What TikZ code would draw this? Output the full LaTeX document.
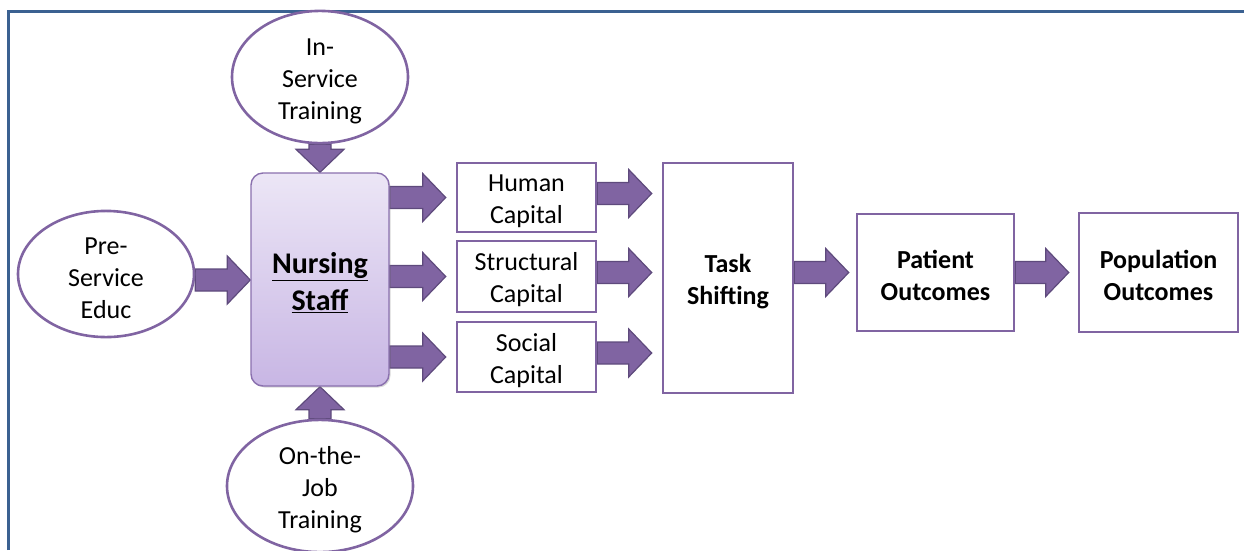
\documentclass[tikz,border=0pt]{standalone}
\usepackage{fontspec}
\setmainfont{Carlito}
\usetikzlibrary{calc,shapes.geometric,backgrounds,shadows}
\definecolor{purp}{HTML}{8064A2}
\definecolor{purpdark}{HTML}{5E4A7C}
\definecolor{purpline}{HTML}{8A70AE}
\definecolor{frameblue}{HTML}{3B6191}
\definecolor{gradtop}{HTML}{ECE6F6}
\definecolor{gradbot}{HTML}{C8B6E4}
\newcommand\fatarrow[2]{%
  \filldraw[fatarrow] ($(#1)!11pt!90:(#2)$) -- ($(#2)!23pt!(#1)!11pt!90:(#2)$)
    -- ($(#2)!23pt!(#1)!24pt!90:(#2)$) -- (#2)
    -- ($(#2)!23pt!(#1)!24pt!-90:(#2)$) -- ($(#2)!23pt!(#1)!11pt!-90:(#2)$)
    -- ($(#1)!11pt!-90:(#2)$) -- cycle;}
\newcommand\lowerA{\rule{0pt}{25pt}}
\newcommand\lowerB{\rule{0pt}{27pt}}
\tikzset{
  fatarrow/.style={fill=purp, draw=purpdark, line width=1.2pt, line join=miter},
  oval/.style={ellipse, draw=purp, line width=2.6pt, fill=white, inner sep=0pt,
    align=center, font=\fontsize{26}{32}\selectfont},
  plainbox/.style={rectangle, draw=purp, line width=2.6pt, fill=white, inner sep=0pt,
    align=center, font=\fontsize{26}{32}\selectfont},
  boldbox/.style={plainbox, font=\fontsize{26}{32}\selectfont\bfseries},
  nursebox/.style={rectangle, rounded corners=12pt, draw=purpline, line width=1.4pt,
    top color=gradtop, bottom color=gradbot, inner sep=0pt, align=center,
    font=\fontsize{30}{37}\selectfont\bfseries,
    drop shadow={opacity=0.3, shadow xshift=1.5pt, shadow yshift=-1.5pt}}
}
\begin{document}
\begin{tikzpicture}[x=1pt,y=-1pt]
\useasboundingbox (0,0) rectangle (1244,550);
\draw[frameblue, line width=3pt] (8.5,550) -- (8.5,11.5) -- (1244,11.5);

\node[nursebox, minimum width=138pt, minimum height=213pt] (nurse) at (320,279.5)
  {\lowerB\underline{Nursing}\\\underline{Staff}};
\node[oval, minimum width=176pt, minimum height=108pt] (ins) at (320,77) {\lowerA In-\\Service\\Training};
\node[oval, minimum width=176pt, minimum height=108pt] (pre) at (106,274) {\lowerA Pre-\\Service\\Educ};
\node[oval, minimum width=186pt, minimum height=118pt] (job) at (320,486) {\lowerA On-the-\\Job\\Training};

\node[plainbox, minimum width=139pt, minimum height=69pt] (hc) at (526.5,197.5) {\lowerA Human\\Capital};
\node[plainbox, minimum width=139pt, minimum height=71pt] (sc) at (526.5,276.5) {\lowerA Structural\\Capital};
\node[plainbox, minimum width=139pt, minimum height=70pt] (soc) at (526.5,357) {\lowerA Social\\Capital};

\node[boldbox, minimum width=130pt, minimum height=230pt] (task) at (728,278) {\lowerA Task\\Shifting};
\node[boldbox, minimum width=157pt, minimum height=117pt] (pat) at (935.5,272.5) {\lowerA Patient\\Outcomes};
\node[boldbox, minimum width=159pt, minimum height=119pt] (pop) at (1158.5,272.5) {\lowerA Population\\Outcomes};

\coordinate (p0) at ($(pre.east)+(0,6)$);
\coordinate (p1) at (nurse.west |- p0);
\coordinate (h0) at (nurse.east |- hc.west);
\coordinate (h1) at ($(hc.west)+(-10,0)$);
\coordinate (s0) at (nurse.east |- sc.west);
\coordinate (s1) at ($(sc.west)+(-10,0)$);
\coordinate (o0) at (nurse.east |- soc.west);
\coordinate (o1) at ($(soc.west)+(-10,0)$);
\coordinate (hh0) at ($(hc.east)+(0,-4)$);
\coordinate (hh1) at ($(task.west |- hc.east)+(-10,-4)$);
\coordinate (ss0) at ($(sc.east)+(0,-4)$);
\coordinate (ss1) at ($(task.west |- sc.east)+(-10,-4)$);
\coordinate (oo0) at ($(soc.east)+(0,-4)$);
\coordinate (oo1) at ($(task.west |- soc.east)+(-10,-4)$);
\coordinate (t0) at (task.east |- pat.west);
\coordinate (t1) at ($(pat.west)+(-7,0)$);
\coordinate (q1) at ($(pop.west)+(-9,0)$);

\begin{pgfonlayer}{background}
\fatarrow{ins.south}{nurse.north}
\fatarrow{job.north}{nurse.south}
\fatarrow{p0}{p1}
\fatarrow{h0}{h1}
\fatarrow{s0}{s1}
\fatarrow{o0}{o1}
\fatarrow{hh0}{hh1}
\fatarrow{ss0}{ss1}
\fatarrow{oo0}{oo1}
\fatarrow{t0}{t1}
\fatarrow{pat.east}{q1}
\end{pgfonlayer}
\end{tikzpicture}
\end{document}
